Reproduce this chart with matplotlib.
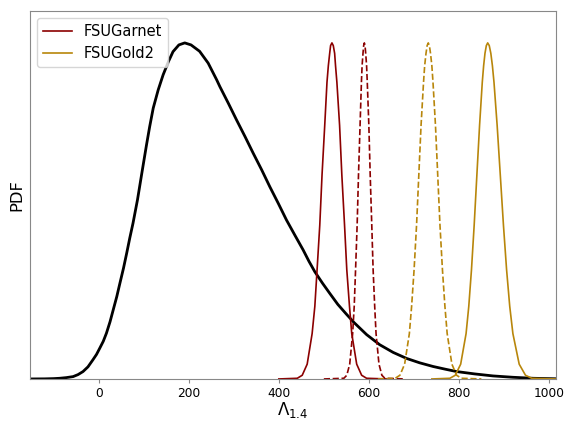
import matplotlib
matplotlib.use("Agg")
import matplotlib.pyplot as plt
from matplotlib.lines import Line2D

# combined posterior on Lambda_1.4 (peak normalised to 1)
lam_post = [-153, -120, -100, -87, -72, -57, -46, -35, -24, -13, -5, 2, 10, 17,
            25, 32, 40, 47, 55, 62, 69, 76, 86, 96, 106, 113, 121, 132, 143,
            155, 165, 178, 191, 205, 224, 243, 262, 269, 288, 306, 325, 343,
            362, 380, 399, 417, 436, 454, 467, 480, 497, 513, 531, 550, 567,
            595, 624, 654, 684, 713, 743, 770, 795, 835, 876, 920, 965, 1016]
pdf_post = [0.0, 0.0003, 0.001, 0.002, 0.004, 0.007, 0.013, 0.022, 0.036,
            0.057, 0.073, 0.091, 0.112, 0.136, 0.17, 0.205, 0.245, 0.285,
            0.33, 0.374, 0.42, 0.463, 0.533, 0.615, 0.696, 0.75, 0.806, 0.86,
            0.905, 0.945, 0.974, 0.994, 1.0, 0.994, 0.975, 0.94, 0.89, 0.87,
            0.82, 0.771, 0.721, 0.672, 0.622, 0.572, 0.522, 0.473, 0.427,
            0.384, 0.35, 0.319, 0.285, 0.255, 0.222, 0.193, 0.168, 0.132,
            0.102, 0.079, 0.061, 0.048, 0.037, 0.029, 0.022, 0.015, 0.009,
            0.005, 0.002, 0.0005]

# shared peak shape for the model curves
pdf_peak = [0.0, 0.002, 0.011, 0.044, 0.135, 0.216, 0.325, 0.458, 0.607,
            0.755, 0.883, 0.932, 0.969, 0.992, 1.0, 0.992, 0.969, 0.932,
            0.883, 0.755, 0.607, 0.458, 0.325, 0.216, 0.135, 0.044, 0.011,
            0.002, 0.0]

lam_garnet = [400, 441, 452, 463, 474, 480, 485, 491, 496, 502, 507, 510, 513,
              515, 518, 521, 524, 526, 529, 535, 540, 546, 551, 557, 562, 573,
              584, 595, 640]
lam_garnet_dash = [500, 544.5, 551, 557.5, 564, 567.5, 570.5, 574, 577, 580.5,
                   583.5, 585, 587, 588.5, 590, 591.5, 593, 595, 596.5, 600,
                   603, 606.5, 609.5, 613, 616, 622.5, 629, 635.5, 680]
lam_gold_dash = [620, 658.5, 669, 679.5, 690, 695, 700.5, 706, 711, 716, 721.5,
                 724, 727, 729.5, 732, 734.5, 737, 740, 742.5, 748, 753, 758,
                 763.5, 769, 774, 784.5, 795, 805.5, 850]
lam_gold = [740, 780, 792, 804, 816, 822, 828, 834, 840, 846, 852, 855, 858,
            861, 864, 867.5, 871, 874.5, 878, 885, 892, 899, 906, 913, 920,
            934, 948, 962, 1016]

c_garnet = "darkred"
c_gold = "darkgoldenrod"

fig = plt.figure(figsize=(5.64, 4.22), dpi=100)
ax = fig.add_axes([0.053, 0.102, 0.933, 0.872])

ax.plot(lam_post, pdf_post, color="black", lw=2.0)
ax.plot(lam_garnet, pdf_peak, color=c_garnet, lw=1.2)
ax.plot(lam_garnet_dash, pdf_peak, color=c_garnet, lw=1.2, ls="--")
ax.plot(lam_gold_dash, pdf_peak, color=c_gold, lw=1.2, ls="--")
ax.plot(lam_gold, pdf_peak, color=c_gold, lw=1.2)

ax.set_xlim(-153, 1016)
ax.set_ylim(0, 1.095)
ax.set_xticks([0, 200, 400, 600, 800, 1000])
ax.set_yticks([])
ax.tick_params(axis="x", labelsize=8.8, color="#888888", length=3, pad=3)
for sp in ax.spines.values():
    sp.set_color("#888888")

ax.set_xlabel(r"$\Lambda_{1.4}$", fontsize=12, labelpad=0)
ax.set_ylabel("PDF", fontsize=11.8)

handles = [Line2D([], [], color=c_garnet, lw=1.2),
           Line2D([], [], color=c_gold, lw=1.2)]
ax.legend(handles, ["FSUGarnet", "FSUGold2"], loc="upper left", fontsize=10.5,
          handlelength=2.0)

fig.savefig("out.png", dpi=100)
